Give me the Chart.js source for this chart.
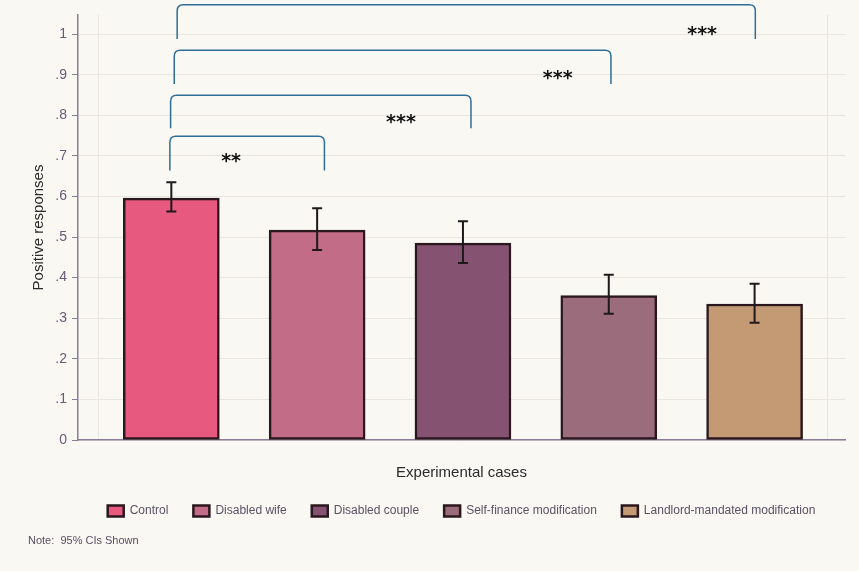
<!DOCTYPE html>
<html>
<head>
<meta charset="utf-8">
<script src="https://cdn.jsdelivr.net/npm/chart.js@4.4.1/dist/chart.umd.min.js"></script>
<style>
	html, body { margin: 0; padding: 0; background: #f9f8f3; }
	#wrap { width: 859px; height: 571px; }
</style>
</head>
<body>
<div id="wrap"><canvas id="chartcases" width="859" height="571"></canvas></div>
<script>

var caseLabels = ["Control", "Disabled wife", "Disabled couple", "Self-finance modification", "Landlord-mandated modification"];
var casePositions = [1, 2, 3, 4, 5];
var positiveShare = [0.596, 0.517, 0.485, 0.356, 0.335];
var ciLow = [0.563, 0.468, 0.436, 0.311, 0.289];
var ciHigh = [0.635, 0.571, 0.539, 0.407, 0.385];
var yTicks = [0, 0.1, 0.2, 0.3, 0.4, 0.5, 0.6, 0.7, 0.8, 0.9, 1];

// significance brackets (x in case units, y in response units)
var bracketFrom = [0.99, 0.995, 1.02, 1.04];
var bracketTo = [2.05, 3.055, 4.015, 5.005];
var bracketTop = [0.748, 0.849, 0.960, 1.072];
var bracketLeg = [0.664, 0.768, 0.877, 0.988];
var starText = ["**", "***", "***", "***"];
var starX = [1.41, 2.575, 3.65, 4.64];
var starY = [0.694, 0.790, 0.899, 1.007];

var barColors = ["#e8597f", "#c26c87", "#855272", "#9a6c7c", "#c49a74"];
var edgeColor = "#2b171e";
var axisColor = "#8c7d94";
var gridColor = "#e8e6df";

var backgroundPlugin = {
	id: 'bgfill',
	beforeDraw: function(chart){
		var ctx = chart.ctx;
		ctx.save();
		ctx.fillStyle = "#f9f8f3";
		ctx.fillRect(0, 0, chart.width, chart.height);
		ctx.restore();
	}
};

var extrasPlugin = {
	id: 'extras',
	afterDatasetsDraw: function(chart){
		var ctx = chart.ctx;
		var xs = chart.scales.x;
		var ys = chart.scales.y;
		ctx.save();

		// confidence intervals
		ctx.strokeStyle = "#1e1a1c";
		ctx.lineWidth = 2;
		for (var i = 0; i < casePositions.length; i++){
			var cx = xs.getPixelForValue(casePositions[i]);
			var yl = ys.getPixelForValue(ciLow[i]);
			var yh = ys.getPixelForValue(ciHigh[i]);
			ctx.beginPath();
			ctx.moveTo(cx, yl); ctx.lineTo(cx, yh);
			ctx.moveTo(cx - 5, yl); ctx.lineTo(cx + 5, yl);
			ctx.moveTo(cx - 5, yh); ctx.lineTo(cx + 5, yh);
			ctx.stroke();
		}

		// brackets
		ctx.strokeStyle = "#2f6e96";
		ctx.lineWidth = 1.5;
		var r = 6;
		for (var j = 0; j < bracketFrom.length; j++){
			var x1 = xs.getPixelForValue(bracketFrom[j]);
			var x2 = xs.getPixelForValue(bracketTo[j]);
			var yt = ys.getPixelForValue(bracketTop[j]);
			var yb = ys.getPixelForValue(bracketLeg[j]);
			ctx.beginPath();
			ctx.moveTo(x1, yb);
			ctx.lineTo(x1, yt + r);
			ctx.quadraticCurveTo(x1, yt, x1 + r, yt);
			ctx.lineTo(x2 - r, yt);
			ctx.quadraticCurveTo(x2, yt, x2, yt + r);
			ctx.lineTo(x2, yb);
			ctx.stroke();

			ctx.fillStyle = "#111111";
			ctx.font = "bold 19px 'DejaVu Sans'";
			ctx.textAlign = "center";
			ctx.textBaseline = "middle";
			ctx.fillText(starText[j], xs.getPixelForValue(starX[j]), ys.getPixelForValue(starY[j]) + 4);
		}

		// note
		ctx.fillStyle = "#574e60";
		ctx.font = "11px 'Liberation Sans'";
		ctx.textAlign = "left";
		ctx.textBaseline = "middle";
		ctx.fillText("Note:  95% CIs Shown", 28, 541);
		ctx.restore();
	}
};

function init_chart_cases(){

	if( typeof (Chart) === 'undefined'){ return; }

	var points = [];
	for (var i = 0; i < casePositions.length; i++){
		points.push({ x: casePositions[i], y: positiveShare[i] });
	}

	var chart_bar_settings = {
		type: 'bar',
		data: {
			datasets: [{
				data: points,
				backgroundColor: barColors,
				borderColor: edgeColor,
				borderWidth: 2.5,
				borderSkipped: false,
				barThickness: 96
			}]
		},
		options: {
			responsive: false,
			animation: false,
			layout: { padding: { left: 0, right: 14, top: 15, bottom: 44 } },
			plugins: {
				tooltip: { enabled: false },
				legend: {
					position: 'bottom',
					fullSize: false,
					onClick: null,
					labels: {
						boxWidth: 16,
						boxHeight: 11,
						padding: 25,
						color: "#5a5064",
						font: { family: "'Liberation Sans'", size: 12 },
						generateLabels: function(chart){
							return caseLabels.map(function(l, i){
								return { text: l, fillStyle: barColors[i], strokeStyle: edgeColor, fontColor: "#5a5064", lineWidth: 2.5, hidden: false, index: i, datasetIndex: 0 };
							});
						}
					}
				}
			},
			scales: {
				x: {
					type: 'linear',
					min: 0.36,
					max: 5.62,
					offset: false,
					afterBuildTicks: function(axis){ axis.ticks = [{ value: 0.5 }, { value: 5.5 }]; },
					afterFit: function(axis){ axis.height = 40; },
					ticks: { display: false },
					grid: { color: gridColor, drawTicks: false, offset: false },
					border: { display: true, color: axisColor, width: 1.5 },
					title: {
						display: true,
						text: "Experimental cases",
						color: "#2b2b2b",
						font: { family: "'Liberation Sans'", size: 15 },
						padding: { top: 0, bottom: -2 }
					}
				},
				y: {
					min: 0,
					max: 1.047,
					afterBuildTicks: function(axis){ axis.ticks = yTicks.map(function(v){ return { value: v }; }); },
					afterFit: function(axis){ axis.width = 78; },
					ticks: {
						color: "#6b5a75",
						padding: 5,
						font: { family: "'Liberation Sans'", size: 14 },
						callback: function(v){
							if (v === 0) return "0";
							if (v === 1) return "1";
							return v.toFixed(1).replace(/^0/, "");
						}
					},
					grid: { color: gridColor, tickColor: axisColor, tickLength: 6 },
					border: { display: true, color: axisColor, width: 1.5 },
					title: {
						display: true,
						text: "Positive responses",
						color: "#2b2b2b",
						font: { family: "'Liberation Sans'", size: 15 },
						padding: { top: 30, bottom: 0 }
					}
				}
			}
		},
		plugins: [backgroundPlugin, extrasPlugin]
	};

	var chart_bar = new Chart(document.getElementById('chartcases'), chart_bar_settings);
}

init_chart_cases();

</script>
</body>
</html>
